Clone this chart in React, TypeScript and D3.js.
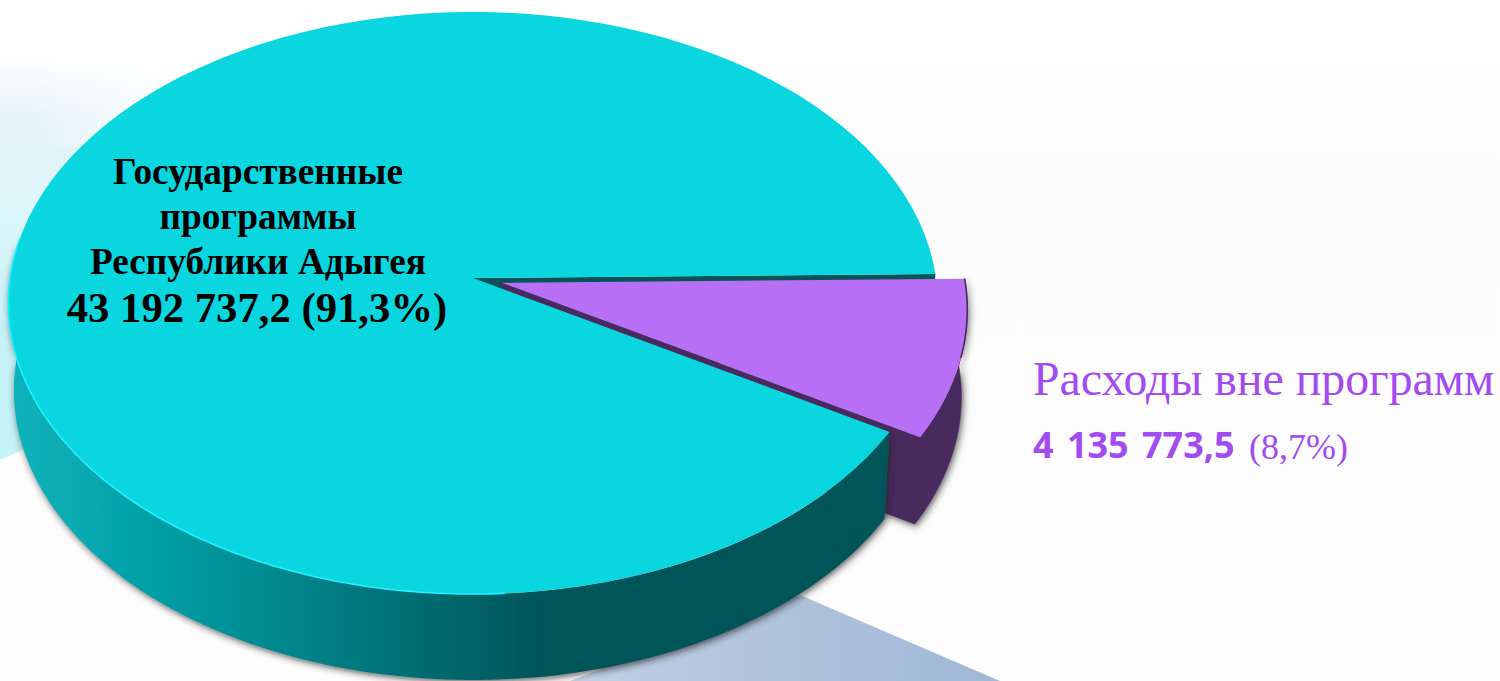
import * as d3 from "d3";

/* Data ---------------------------------------------------------------- */

const SEGMENTS = ["Государственные программы Республики Адыгея", "Расходы вне программ"];
const VALUES = [43192737.2, 4135773.5];
const PROGRAM_LINES = ["Государственные", "программы", "Республики Адыгея"];
const PROGRAM_TOTAL = "43 192 737,2 (91,3%)";
const OUTSIDE_TITLE = "Расходы вне программ";
const OUTSIDE_VALUE = "4 135 773,5";
const OUTSIDE_SHARE = "(8,7%)";

/* Theme --------------------------------------------------------------- */

const CYAN_TOP = "#0ad6e0";
const CYAN_DARK = "#055459";
const CYAN_EDGE = "#22f0ff";
const PURPLE_TOP = "#b66ff5";
const PURPLE_DARK = "#4a2b5e";
const PURPLE_TEXT = "#a24bf0";
const SERIF = "'Liberation Serif', serif";

/* Projection of the tilted disc --------------------------------------- */

const W = 1500;
const H = 681;
const CX = 473;
const CY = 278;
const R = 463;
const RY = 288.9;
const PERSPECTIVE = -0.0859;
const DEPTH = 87.5;
const BOTTOM_SCALE_X = 0.988;
const BOTTOM_SCALE_Y = 0.995;
const EXPLODE = 0.064;

type Pt = [number, number];

const project = (angle: number, radius: number, ox = 0, oy = 0): Pt => {
  const u = Math.sin(angle) * radius + ox;
  const v = -Math.cos(angle) * radius + oy;
  const d = 1 + PERSPECTIVE * v;
  return [CX + (R * u) / d, CY + (RY * v) / d];
};

const drop = ([x, y]: Pt): Pt => [
  CX + (x - CX) * BOTTOM_SCALE_X,
  CY + (y - CY) * BOTTOM_SCALE_Y + DEPTH,
];

const rim = (a0: number, a1: number, ox = 0, oy = 0): Pt[] =>
  d3.range(0, 1.0001, 1 / 120).map((t) => project(a0 + (a1 - a0) * t, 1, ox, oy));

const poly = d3.line<Pt>().curve(d3.curveLinear);
const closed = (pts: Pt[]) => `${poly(pts)}Z`;

const pie = d3
  .pie<number>()
  .sort(null)
  .startAngle((120.65 * Math.PI) / 180)
  .endAngle((120.65 * Math.PI) / 180 + 2 * Math.PI);

export default function App() {
  const [programs, outside] = pie(VALUES);

  /* Cyan slice */
  const cyanRim = rim(programs.startAngle, programs.endAngle);
  const apex = project(0, 0);
  const cyanTop = closed([apex, ...cyanRim]);
  const wallEnd = (270 * Math.PI) / 180 + 0.12;
  const cyanFront = rim(programs.startAngle, wallEnd);
  const cyanWall = closed([...cyanFront, ...cyanFront.map(drop).reverse()]);
  const cutEdge = project(programs.endAngle, 1);
  const cyanCut = closed([apex, cutEdge, drop(cutEdge), drop(apex)]);
  const highlight = poly(rim(Math.PI * 0.98, (278 * Math.PI) / 180)) ?? "";

  /* Purple slice, pulled out along its bisector */
  const mid = (outside.startAngle + outside.endAngle) / 2;
  const ox = Math.sin(mid) * EXPLODE;
  const oy = -Math.cos(mid) * EXPLODE;
  const purpleRim = rim(outside.startAngle, outside.endAngle, ox, oy);
  const purpleApex = project(0, 0, ox, oy);
  const purpleCorner = purpleRim[purpleRim.length - 1];
  const purpleTop = closed([purpleApex, ...purpleRim]);
  const purpleRimWall = closed([...purpleRim, ...purpleRim.map(drop).reverse()]);
  const purpleCutWall = closed([purpleApex, purpleCorner, drop(purpleCorner), drop(purpleApex)]);
  const purpleEdge = poly(purpleRim.slice(0, 60)) ?? "";

  return (
    <svg
      width={W}
      height={H}
      viewBox={`0 0 ${W} ${H}`}
      style={{ position: "absolute", left: 0, top: 0, display: "block" }}
      role="img"
      aria-label={SEGMENTS.join(", ")}
    >
      <defs>
        <linearGradient id="page" x1="0" y1="0" x2="0" y2="1">
          <stop offset="0" stopColor="#ffffff" />
          <stop offset="0.25" stopColor="#fcfcfc" />
          <stop offset="1" stopColor="#fdfdfd" />
        </linearGradient>
        <linearGradient id="glow" gradientUnits="userSpaceOnUse" x1="0" y1="55" x2="0" y2="460">
          <stop offset="0" stopColor="#ffffff" />
          <stop offset="0.16" stopColor="#e6f3f8" />
          <stop offset="0.4" stopColor="#dcf6fa" />
          <stop offset="0.7" stopColor="#c6f1f6" />
          <stop offset="1" stopColor="#c4f2f8" />
        </linearGradient>
        <linearGradient id="glowFade" gradientUnits="userSpaceOnUse" x1="30" y1="0" x2="190" y2="0">
          <stop offset="0" stopColor="#fff" stopOpacity="0" />
          <stop offset="1" stopColor="#fff" stopOpacity="0.95" />
        </linearGradient>
        <linearGradient id="beam" gradientUnits="userSpaceOnUse" x1="220" y1="0" x2="1000" y2="0">
          <stop offset="0" stopColor="#ffffff" />
          <stop offset="0.55" stopColor="#bac9e0" />
          <stop offset="1" stopColor="#9fb8d6" />
        </linearGradient>
        <linearGradient id="cyanWall" gradientUnits="userSpaceOnUse" x1="12" y1="0" x2="890" y2="0">
          <stop offset="0" stopColor="#08b3ba" />
          <stop offset="0.2" stopColor="#059aa0" />
          <stop offset="0.42" stopColor="#04747a" />
          <stop offset="0.61" stopColor={CYAN_DARK} />
          <stop offset="1" stopColor={CYAN_DARK} />
        </linearGradient>
        <filter id="shadow" x="-5%" y="-5%" width="110%" height="115%">
          <feDropShadow dx="1.5" dy="2" stdDeviation="3.5" floodColor="#222" floodOpacity="0.75" />
        </filter>
      </defs>

      {/* Page background */}
      <rect width={W} height={H} fill="url(#page)" />
      <path d="M0 55H360V300L0 460Z" fill="url(#glow)" />
      <rect x={0} y={55} width={360} height={90} fill="url(#glowFade)" />
      <path d="M800 595L1000 681H570Z" fill="url(#beam)" />

      {/* Pulled-out slice */}
      <path d={cyanCut} fill={CYAN_DARK} />
      <g filter="url(#shadow)" fill={PURPLE_DARK} stroke={PURPLE_DARK} strokeWidth={0.6}>
        <path d={purpleCutWall} />
        <path d={purpleRimWall} />
      </g>
      <path d={purpleTop} fill={PURPLE_TOP} />
      <path d={purpleEdge} fill="none" stroke={PURPLE_DARK} strokeWidth={1.6} />

      {/* Main slice */}
      <path d={cyanWall} fill="url(#cyanWall)" filter="url(#shadow)" />
      <path d={cyanTop} fill={CYAN_TOP} />
      <path d={highlight} fill="none" stroke={CYAN_EDGE} strokeWidth={1.6} />

      {/* Labels */}
      <g fontFamily={SERIF} fontWeight="bold" fill="#000" textAnchor="middle">
        {PROGRAM_LINES.map((line, i) => (
          <text key={line} x={258} y={[184, 229, 274][i]} fontSize={37.3}>
            {line}
          </text>
        ))}
        <text x={257} y={322} fontSize={42.7}>
          {PROGRAM_TOTAL}
        </text>
      </g>
      <text x={1033} y={395} fontFamily={SERIF} fontSize={47.8} fill={PURPLE_TEXT}>
        {OUTSIDE_TITLE}
      </text>
      <text
        x={1033}
        y={458}
        fontFamily="'Open Sans', sans-serif"
        fontWeight="bold"
        fontSize={36}
        wordSpacing={4}
        fill={PURPLE_TEXT}
      >
        {OUTSIDE_VALUE}
      </text>
      <text x={1249} y={459} fontFamily={SERIF} fontSize={36} fill={PURPLE_TEXT}>
        {OUTSIDE_SHARE}
      </text>
    </svg>
  );
}
